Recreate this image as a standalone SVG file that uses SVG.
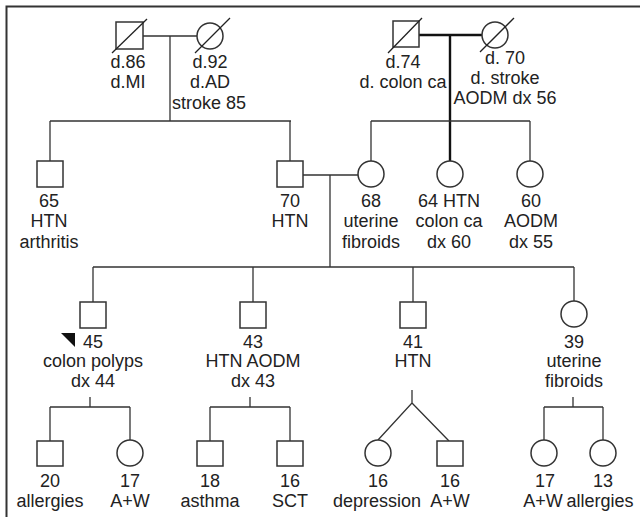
<svg xmlns="http://www.w3.org/2000/svg" width="640" height="517" viewBox="0 0 640 517">
<style>
.s{fill:#fff;stroke:#333;stroke-width:1.5}
.l{fill:none;stroke:#333;stroke-width:1.3}
.k{fill:none;stroke:#111;stroke-width:2.4}
.d{stroke:#222;stroke-width:1.3}
text{font-family:"Liberation Sans",Arial,sans-serif;font-size:18px;fill:#222;text-anchor:middle}
</style>
<rect width="640" height="517" fill="#fff"/>
<path d="M6.5,517 V6.5 H640" fill="none" stroke="#333" stroke-width="2"/>
<g id="connectors">
<path class="l" d="M143,36 H197 M170,36 V121 M50,121 H291 M50,121 V161 M290,121 V161"/>
<path class="k" d="M419,35 H482 M450,35 V161"/>
<path class="l" d="M371,121 H530 M371,121 V161 M530,121 V161"/>
<path class="l" d="M303,175 H358 M330,175 V267 M93,267 H574 M93,267 V302 M253,267 V302 M413,267 V302 M574,267 V301"/>
<path class="l" d="M90,397 V407 M50,407 H130 M50,407 V441 M130,407 V440"/>
<path class="l" d="M250,397 V407 M210,407 H290 M210,407 V441 M290,407 V441"/>
<path class="l" d="M412,390 V403 L378,440 M412,403 L449,441"/>
<path class="l" d="M573,397 V407 M544,407 H603 M544,407 V440 M603,407 V440"/>
</g>
<g id="gp1-male"><rect class="s" x="116" y="22" width="27" height="27"/><line class="d" x1="112" y1="53" x2="147" y2="19"/><text x="128" y="68">d.86</text><text x="128" y="88">d.MI</text></g>
<g id="gp1-female"><circle class="s" cx="210" cy="36" r="13"/><line class="d" x1="195" y1="53" x2="230" y2="18"/><text x="210" y="68">d.92</text><text x="210" y="88">d.AD</text><text x="209" y="109">stroke 85</text></g>
<g id="gp2-male"><rect class="s" x="393" y="21" width="26" height="26"/><line class="d" x1="388" y1="53" x2="422" y2="18"/><text x="403" y="68">d.74</text><text x="403" y="88">d. colon ca</text></g>
<g id="gp2-female"><circle class="s" cx="495" cy="35" r="13"/><line class="d" x1="480" y1="52" x2="514" y2="18"/><text x="505" y="64">d. 70</text><text x="505" y="84">d. stroke</text><text x="505" y="104">AODM dx 56</text></g>
<g id="p65"><rect class="s" x="37" y="161" width="26" height="26"/><text x="49" y="207">65</text><text x="49" y="227">HTN</text><text x="49" y="248">arthritis</text></g>
<g id="p70"><rect class="s" x="277" y="161" width="26" height="26"/><text x="290" y="207">70</text><text x="290" y="227">HTN</text></g>
<g id="p68"><circle class="s" cx="371" cy="174" r="13"/><text x="371" y="207">68</text><text x="371" y="227">uterine</text><text x="371" y="248">fibroids</text></g>
<g id="p64"><circle class="s" cx="450" cy="174" r="13"/><text x="449" y="207">64 HTN</text><text x="449" y="227">colon ca</text><text x="449" y="248">dx 60</text></g>
<g id="p60"><circle class="s" cx="530" cy="174" r="13"/><text x="531" y="207">60</text><text x="531" y="227">AODM</text><text x="531" y="248">dx 55</text></g>
<g id="p45"><rect class="s" x="80" y="302" width="26" height="26"/><polygon points="61,333 75,333 75,347" fill="#111"/><text x="93" y="348">45</text><text x="93" y="367">colon polyps</text><text x="93" y="387">dx 44</text></g>
<g id="p43"><rect class="s" x="240" y="302" width="26" height="26"/><text x="253" y="348">43</text><text x="253" y="367">HTN AODM</text><text x="253" y="387">dx 43</text></g>
<g id="p41"><rect class="s" x="400" y="302" width="26" height="26"/><text x="413" y="348">41</text><text x="413" y="367">HTN</text></g>
<g id="p39"><circle class="s" cx="574" cy="314" r="13"/><text x="574" y="348">39</text><text x="574" y="367">uterine</text><text x="574" y="387">fibroids</text></g>
<g id="p20"><rect class="s" x="37" y="441" width="26" height="25"/><text x="50" y="487">20</text><text x="50" y="507">allergies</text></g>
<g id="p17a"><circle class="s" cx="130" cy="453" r="13"/><text x="130" y="487">17</text><text x="130" y="507">A+W</text></g>
<g id="p18"><rect class="s" x="197" y="441" width="26" height="25"/><text x="210" y="487">18</text><text x="210" y="507">asthma</text></g>
<g id="p16a"><rect class="s" x="277" y="441" width="26" height="25"/><text x="290" y="487">16</text><text x="290" y="507">SCT</text></g>
<g id="p16b"><circle class="s" cx="378" cy="453" r="13"/><text x="378" y="487">16</text><text x="377" y="507">depression</text></g>
<g id="p16c"><rect class="s" x="437" y="441" width="26" height="25"/><text x="450" y="487">16</text><text x="450" y="507">A+W</text></g>
<g id="p17b"><circle class="s" cx="544" cy="453" r="13"/><text x="545" y="487">17</text><text x="543" y="507">A+W</text></g>
<g id="p13"><circle class="s" cx="603" cy="453" r="13"/><text x="603" y="487">13</text><text x="600" y="507">allergies</text></g>
</svg>
